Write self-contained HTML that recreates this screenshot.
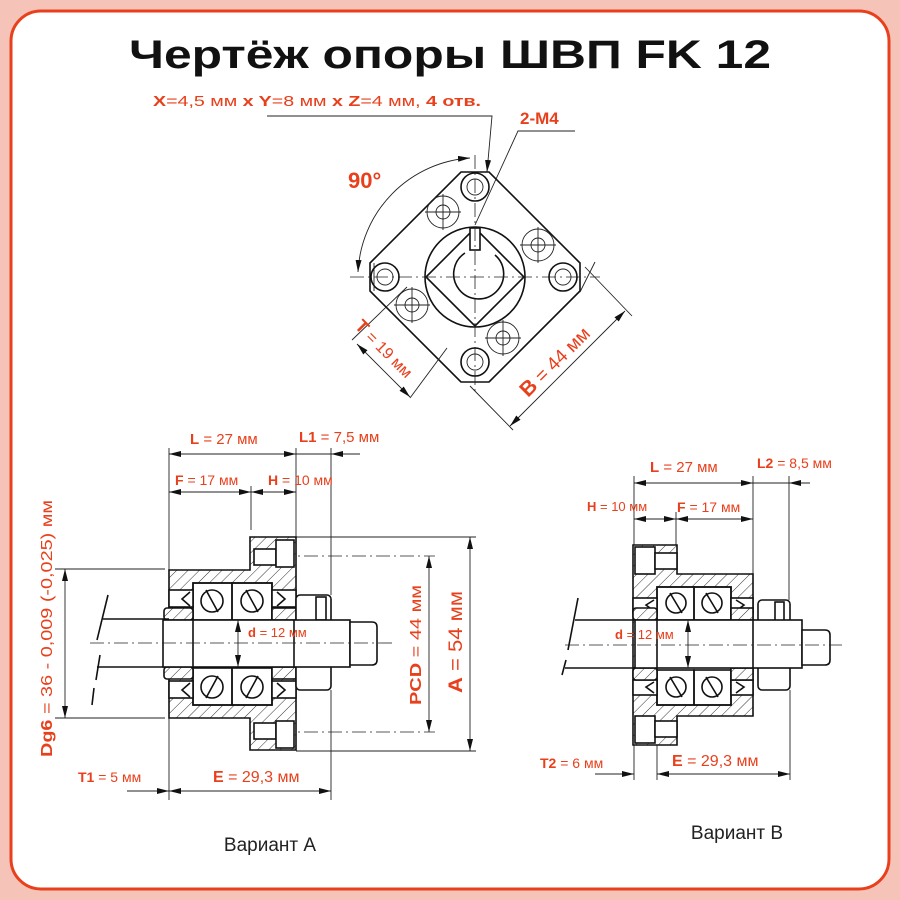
<!DOCTYPE html>
<html><head><meta charset="utf-8"><style>
html,body{margin:0;padding:0;background:#f6c3b8;}
svg{display:block;font-family:"Liberation Sans",sans-serif;}
.r{fill:#e8401c;}
.k{stroke:#111;fill:none;stroke-width:1.6;}
.t{stroke:#222;fill:none;stroke-width:0.9;}
.c{stroke:#222;fill:none;stroke-width:0.8;stroke-dasharray:14 4 2 4;}
.h{fill:url(#hatch);stroke:#111;stroke-width:1.6;}
.w{fill:#fff;stroke:#111;stroke-width:1.6;}
</style></head><body>
<svg width="900" height="900" viewBox="0 0 900 900" xmlns="http://www.w3.org/2000/svg">
<defs>
<pattern id="hatch" width="8" height="8" patternUnits="userSpaceOnUse" patternTransform="rotate(45)">
<rect width="8" height="8" fill="#fff"/><line x1="0" y1="0" x2="0" y2="8" stroke="#333" stroke-width="1"/></pattern>
<marker id="a" markerWidth="12" markerHeight="6" refX="12" refY="3" orient="auto-start-reverse" markerUnits="userSpaceOnUse"><path d="M0,0 L12,3 L0,6z" fill="#111"/></marker>
</defs>
<rect x="0" y="0" width="900" height="900" fill="#f6c3b8"/>
<rect x="11" y="11" width="878" height="878" rx="30" fill="#fff" stroke="#e8401c" stroke-width="3"/>
<text x="450" y="68" text-anchor="middle" font-size="40" font-weight="bold" fill="#111" textLength="642" lengthAdjust="spacingAndGlyphs">Чертёж опоры ШВП FK 12</text>

<!-- TOP VIEW -->
<text x="153" y="106" font-size="15" class="r" textLength="328" lengthAdjust="spacingAndGlyphs"><tspan font-weight="bold">X</tspan>=4,5 мм <tspan font-weight="bold">x Y</tspan>=8 мм <tspan font-weight="bold">x Z</tspan>=4 мм, <tspan font-weight="bold">4 отв.</tspan></text>
<text x="520" y="124" font-size="17" font-weight="bold" class="r">2-М4</text>
<text x="348" y="188" font-size="22" font-weight="bold" class="r">90°</text>
<polyline class="t" points="267,116 492,116 487,172" marker-end="url(#a)"/>
<polyline class="t" points="575,131 518,131 475,225"/>
<polygon class="k" points="461,172 489,172 580,263 580,291 489,382 461,382 370,291 370,263"/>
<line class="t" x1="374" y1="263" x2="374" y2="291"/>
<circle class="k" cx="475" cy="277" r="50"/>
<polygon class="k" points="475,228 524,277 475,326 426,277"/>
<rect class="w" x="470" y="228" width="10" height="22" stroke-width="1.2"/>
<path class="k" d="M465,253 A25,25 0 1,0 495,255" stroke-width="1.3"/>
<line class="c" x1="350" y1="277" x2="600" y2="277"/>
<line class="c" x1="475" y1="155" x2="475" y2="395"/>
<g class="t">
<circle cx="475" cy="187" r="14" class="k" stroke-width="1.3"/><circle cx="475" cy="187" r="8"/>
<circle cx="385" cy="277" r="14" class="k" stroke-width="1.3"/><circle cx="385" cy="277" r="8"/>
<circle cx="563" cy="277" r="14" class="k" stroke-width="1.3"/><circle cx="563" cy="277" r="8"/>
<circle cx="475" cy="362" r="14" class="k" stroke-width="1.3"/><circle cx="475" cy="362" r="8"/>
<circle cx="443" cy="212" r="16"/><circle cx="443" cy="212" r="7"/>
<circle cx="538" cy="245" r="16"/><circle cx="538" cy="245" r="7"/>
<circle cx="412" cy="305" r="16"/><circle cx="412" cy="305" r="7"/>
<circle cx="503" cy="338" r="16"/><circle cx="503" cy="338" r="7"/>
<line x1="425" y1="212" x2="461" y2="212"/><line x1="443" y1="194" x2="443" y2="230"/>
<line x1="520" y1="245" x2="556" y2="245"/><line x1="538" y1="227" x2="538" y2="263"/>
<line x1="394" y1="305" x2="430" y2="305"/><line x1="412" y1="287" x2="412" y2="323"/>
<line x1="485" y1="338" x2="521" y2="338"/><line x1="503" y1="320" x2="503" y2="356"/>
</g>
<path class="t" d="M358,272 A120,120 0 0,1 470,158" marker-start="url(#a)" marker-end="url(#a)"/>
<line class="t" x1="595" y1="262" x2="580" y2="292"/><line class="t" x1="585" y1="267" x2="632" y2="316"/>
<line class="t" x1="470" y1="386" x2="513" y2="430"/>
<line class="t" x1="625" y1="311" x2="510" y2="426" marker-start="url(#a)" marker-end="url(#a)"/>
<line class="t" x1="352" y1="340" x2="407" y2="287"/><line class="t" x1="410" y1="398" x2="447" y2="348"/>
<line class="t" x1="357" y1="344" x2="410" y2="397" marker-start="url(#a)" marker-end="url(#a)"/>
<text transform="translate(354,327) rotate(45)" font-size="16" class="r"><tspan font-weight="bold" font-size="18">T</tspan> = 19 мм</text>
<text transform="translate(528,398) rotate(-45)" font-size="19" class="r"><tspan font-weight="bold" font-size="21">B</tspan> = 44 мм</text>

<!-- VARIANT A -->
<g>
<line class="t" x1="169" y1="448" x2="169" y2="570"/><line class="t" x1="296" y1="448" x2="296" y2="537"/>
<line class="t" x1="331" y1="448" x2="331" y2="595"/><line class="t" x1="251" y1="486" x2="251" y2="530"/>
<line class="t" x1="331" y1="690" x2="331" y2="800"/><line class="t" x1="169" y1="718" x2="169" y2="800"/>
<line class="t" x1="169" y1="454" x2="296" y2="454" marker-start="url(#a)" marker-end="url(#a)"/>
<line class="t" x1="296" y1="454" x2="360" y2="454"/><line class="t" x1="345" y1="454" x2="331" y2="454" marker-end="url(#a)"/>
<line class="t" x1="169" y1="492" x2="251" y2="492" marker-start="url(#a)" marker-end="url(#a)"/>
<line class="t" x1="251" y1="492" x2="296" y2="492" marker-start="url(#a)" marker-end="url(#a)"/>
<line class="t" x1="169" y1="791" x2="331" y2="791" marker-start="url(#a)" marker-end="url(#a)"/>
<line class="t" x1="127" y1="791" x2="169" y2="791" marker-end="url(#a)"/>
<line class="t" x1="55" y1="569" x2="165" y2="569"/><line class="t" x1="55" y1="718" x2="165" y2="718"/>
<line class="t" x1="65" y1="569" x2="65" y2="718" marker-start="url(#a)" marker-end="url(#a)"/>
<line class="t" x1="296" y1="537" x2="476" y2="537"/><line class="t" x1="296" y1="751" x2="476" y2="751"/>
<line class="t" x1="470" y1="537" x2="470" y2="751" marker-start="url(#a)" marker-end="url(#a)"/>
<line class="c" x1="280" y1="556" x2="435" y2="556"/><line class="c" x1="280" y1="732" x2="435" y2="732"/>
<line class="t" x1="429" y1="556" x2="429" y2="732" marker-start="url(#a)" marker-end="url(#a)"/>
<polygon class="h" points="169,570 250,570 250,537 296,537 296,750 250,750 250,718 169,718"/>
<rect class="w" x="254" y="549" width="22" height="16" stroke-width="1"/><rect class="w" x="254" y="723" width="22" height="16" stroke-width="1"/>
<rect class="w" x="276" y="540" width="18" height="27" stroke-width="1"/><rect class="w" x="276" y="721" width="18" height="27" stroke-width="1"/>
<rect class="w" x="193" y="583" width="79" height="122"/>
<g class="k" stroke-width="1.3">
<rect x="193" y="583" width="39" height="37"/><rect x="232" y="583" width="40" height="37"/>
<rect x="193" y="668" width="39" height="37"/><rect x="232" y="668" width="40" height="37"/>
<circle cx="212" cy="601" r="11"/><circle cx="252" cy="601" r="11"/><circle cx="212" cy="687" r="11"/><circle cx="252" cy="687" r="11"/>
<line x1="206" y1="590" x2="218" y2="612"/><line x1="246" y1="590" x2="258" y2="612"/><line x1="218" y1="676" x2="206" y2="698"/><line x1="258" y1="676" x2="246" y2="698"/>
</g>
<rect class="w" x="169" y="590" width="24" height="17" stroke-width="1.2"/><rect class="w" x="272" y="590" width="24" height="17" stroke-width="1.2"/>
<rect class="w" x="169" y="681" width="24" height="17" stroke-width="1.2"/><rect class="w" x="272" y="681" width="24" height="17" stroke-width="1.2"/>
<path class="k" d="M190,592 L182,599 L190,606 M277,592 L285,599 L277,606 M190,683 L182,690 L190,697 M277,683 L285,690 L277,697" stroke-width="1.2"/>
<rect class="h" x="164" y="608" width="29" height="12" rx="3"/><rect class="h" x="272" y="608" width="24" height="12"/>
<rect class="h" x="164" y="667" width="29" height="12" rx="3"/><rect class="h" x="272" y="667" width="24" height="12"/>
<rect class="w" x="296" y="595" width="35" height="95" rx="4"/>
<rect class="w" x="316" y="597" width="10" height="23" stroke-width="1.2"/>
<line class="k" x1="103" y1="619" x2="169" y2="619" stroke-width="2.5"/><line class="k" x1="97" y1="667" x2="169" y2="667" stroke-width="2.5"/>
<line class="k" x1="108" y1="595" x2="97" y2="640"/><line class="k" x1="100" y1="655" x2="96" y2="680"/><line class="k" x1="94" y1="688" x2="92" y2="705"/>
<rect class="w" x="163" y="620" width="187" height="47"/>
<path class="w" d="M350,622 L372,622 Q377,622 377,627 L377,660 Q377,665 372,665 L350,665z"/>
<line class="k" x1="193" y1="620" x2="193" y2="667" stroke-width="1.2"/><line class="k" x1="294" y1="620" x2="294" y2="667" stroke-width="1.2"/>
<line class="t" x1="238" y1="620" x2="238" y2="667" marker-start="url(#a)" marker-end="url(#a)"/>
<line class="c" x1="90" y1="643" x2="392" y2="643"/>
</g>
<text x="190" y="444" font-size="15" class="r"><tspan font-weight="bold">L</tspan> = 27 мм</text>
<text x="299" y="442" font-size="15" class="r"><tspan font-weight="bold">L1</tspan> = 7,5 мм</text>
<text x="175" y="485" font-size="14" class="r"><tspan font-weight="bold">F</tspan> = 17 мм</text>
<text x="268" y="485" font-size="14" class="r"><tspan font-weight="bold">H</tspan> = 10 мм</text>
<text x="248" y="637" font-size="13" class="r"><tspan font-weight="bold">d</tspan> = 12 мм</text>
<text x="78" y="782" font-size="14" class="r"><tspan font-weight="bold">T1</tspan> = 5 мм</text>
<text x="213" y="782" font-size="16" class="r"><tspan font-weight="bold">E</tspan> = 29,3 мм</text>
<text transform="translate(52,757) rotate(-90)" font-size="16" class="r" textLength="257" lengthAdjust="spacingAndGlyphs"><tspan font-weight="bold">Dg6</tspan> = 36 - 0,009 (-0,025) мм</text>
<text transform="translate(421,705) rotate(-90)" font-size="16" class="r" textLength="120" lengthAdjust="spacingAndGlyphs"><tspan font-weight="bold">PCD</tspan> = 44 мм</text>
<text transform="translate(462,693) rotate(-90)" font-size="19" class="r" textLength="102" lengthAdjust="spacingAndGlyphs"><tspan font-weight="bold">A</tspan> = 54 мм</text>
<text x="270" y="851" text-anchor="middle" font-size="19" fill="#222">Вариант А</text>

<!-- VARIANT B -->
<g>
<line class="t" x1="634" y1="476" x2="634" y2="545"/><line class="t" x1="753" y1="476" x2="753" y2="574"/>
<line class="t" x1="789" y1="476" x2="789" y2="600"/><line class="t" x1="676" y1="512" x2="676" y2="545"/>
<line class="t" x1="634" y1="745" x2="634" y2="780"/><line class="t" x1="657" y1="745" x2="657" y2="780"/><line class="t" x1="790" y1="690" x2="790" y2="780"/>
<line class="t" x1="634" y1="483" x2="753" y2="483" marker-start="url(#a)" marker-end="url(#a)"/>
<line class="t" x1="753" y1="483" x2="810" y2="483"/><line class="t" x1="805" y1="483" x2="789" y2="483" marker-end="url(#a)"/>
<line class="t" x1="634" y1="519" x2="676" y2="519" marker-start="url(#a)" marker-end="url(#a)"/>
<line class="t" x1="676" y1="519" x2="753" y2="519" marker-start="url(#a)" marker-end="url(#a)"/>
<line class="t" x1="595" y1="774" x2="634" y2="774" marker-end="url(#a)"/>
<line class="t" x1="657" y1="774" x2="790" y2="774" marker-start="url(#a)" marker-end="url(#a)"/>
<polygon class="h" points="633,545 677,545 677,574 753,574 753,716 677,716 677,745 633,745"/>
<rect class="w" x="635" y="547" width="20" height="27" stroke-width="1"/><rect class="w" x="655" y="553" width="22" height="16" stroke-width="1"/>
<rect class="w" x="635" y="716" width="20" height="27" stroke-width="1"/><rect class="w" x="655" y="721" width="22" height="16" stroke-width="1"/>
<rect class="w" x="657" y="587" width="74" height="118"/>
<g class="k" stroke-width="1.3">
<rect x="657" y="587" width="37" height="33"/><rect x="694" y="587" width="37" height="33"/>
<rect x="657" y="670" width="37" height="35"/><rect x="694" y="670" width="37" height="35"/>
<circle cx="676" cy="603" r="10"/><circle cx="712" cy="603" r="10"/><circle cx="676" cy="687" r="10"/><circle cx="712" cy="687" r="10"/>
<line x1="670" y1="593" x2="682" y2="613"/><line x1="706" y1="593" x2="718" y2="613"/><line x1="670" y1="677" x2="682" y2="697"/><line x1="706" y1="677" x2="718" y2="697"/>
</g>
<rect class="w" x="633" y="598" width="24" height="15" stroke-width="1.2"/><rect class="w" x="731" y="598" width="22" height="15" stroke-width="1.2"/>
<rect class="w" x="633" y="680" width="24" height="15" stroke-width="1.2"/><rect class="w" x="731" y="680" width="22" height="15" stroke-width="1.2"/>
<path class="k" d="M654,600 L646,605 L654,611 M736,600 L744,605 L736,611 M654,682 L646,687 L654,693 M736,682 L744,687 L736,693" stroke-width="1.2"/>
<rect class="h" x="633" y="608" width="24" height="12" rx="3"/><rect class="h" x="731" y="608" width="22" height="12"/>
<rect class="h" x="633" y="668" width="24" height="12" rx="3"/><rect class="h" x="731" y="668" width="22" height="12"/>
<rect class="w" x="758" y="600" width="32" height="90" rx="4"/>
<rect class="w" x="775" y="602" width="9" height="20" stroke-width="1.2"/>
<line class="k" x1="575" y1="620" x2="635" y2="620" stroke-width="2.5"/><line class="k" x1="565" y1="668" x2="635" y2="668" stroke-width="2.5"/>
<line class="k" x1="578" y1="598" x2="568" y2="650"/><line class="k" x1="566" y1="660" x2="562" y2="675"/>
<rect class="w" x="635" y="620" width="167" height="48"/>
<path class="w" d="M802,630 L825,630 Q830,630 830,635 L830,660 Q830,665 825,665 L802,665z"/>
<line class="k" x1="657" y1="620" x2="657" y2="668" stroke-width="1.2"/><line class="k" x1="753" y1="620" x2="753" y2="668" stroke-width="1.2"/>
<line class="t" x1="688" y1="620" x2="688" y2="668" marker-start="url(#a)" marker-end="url(#a)"/>
<line class="c" x1="565" y1="645" x2="842" y2="645"/>
</g>
<text x="650" y="472" font-size="15" class="r"><tspan font-weight="bold">L</tspan> = 27 мм</text>
<text x="757" y="468" font-size="14" class="r"><tspan font-weight="bold">L2</tspan> = 8,5 мм</text>
<text x="587" y="511" font-size="13" class="r"><tspan font-weight="bold">H</tspan> = 10 мм</text>
<text x="677" y="512" font-size="14" class="r"><tspan font-weight="bold">F</tspan> = 17 мм</text>
<text x="615" y="639" font-size="13" class="r"><tspan font-weight="bold">d</tspan> = 12 мм</text>
<text x="540" y="768" font-size="14" class="r"><tspan font-weight="bold">T2</tspan> = 6 мм</text>
<text x="672" y="766" font-size="16" class="r"><tspan font-weight="bold">E</tspan> = 29,3 мм</text>
<text x="737" y="839" text-anchor="middle" font-size="19" fill="#222">Вариант В</text>
</svg>
</body></html>
